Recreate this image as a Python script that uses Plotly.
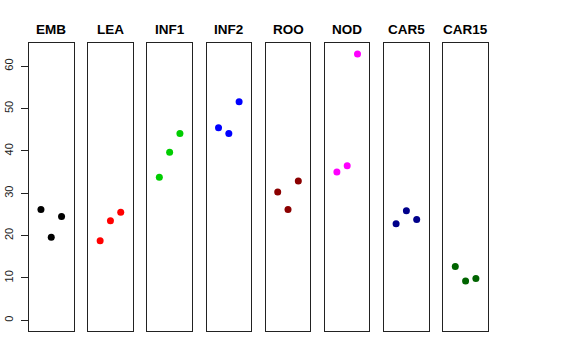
import plotly.graph_objects as go

categories = ["EMB", "LEA", "INF1", "INF2", "ROO", "NOD", "CAR5", "CAR15"]
colors = ["#000000", "#FF0000", "#00CD00", "#0000FF", "#8B0000", "#FF00FF", "#00008B", "#006400"]
emb = [26.2, 19.6, 24.5]
lea = [18.8, 23.5, 25.5]
inf1 = [33.8, 39.7, 44.1]
inf2 = [45.5, 44.1, 51.6]
roo = [30.3, 26.2, 32.9]
nod = [35.0, 36.5, 62.9]
car5 = [22.8, 25.9, 23.8]
car15 = [12.7, 9.3, 9.9]
series = [emb, lea, inf1, inf2, roo, nod, car5, car15]
positions = [1, 2, 3]
y_ticks = [0, 10, 20, 30, 40, 50, 60]

W, H = 576, 360
left0, step, pw = 29.0, 59.19, 44.5
top_px, bot_px = 43.3, 331.0
title_px = 29.0
ymax = max(max(s) for s in series)
ypad = ymax * 0.04

fig = go.Figure()
for i, (cat, col, vals) in enumerate(zip(categories, colors, series)):
    n = "" if i == 0 else str(i + 1)
    fig.add_trace(go.Scatter(
        x=positions, y=vals, mode="markers",
        marker=dict(color=col, size=7),
        xaxis="x" + n, yaxis="y" + n, showlegend=False,
    ))
    l = left0 + i * step
    dom = [l / W, (l + pw) / W]
    fig.layout["xaxis" + n] = dict(
        domain=dom, range=[-0.16, 4.16], showgrid=False, zeroline=False,
        showticklabels=False, ticks="", showline=True, mirror=True,
        linecolor="#222222", linewidth=1, anchor="y" + n, fixedrange=True,
        automargin=False,
    )
    fig.layout["yaxis" + n] = dict(
        domain=[(H - bot_px) / H, (H - top_px) / H], range=[-ypad, ymax + ypad],
        showgrid=False, zeroline=False, showline=True, mirror=True,
        linecolor="#222222", linewidth=1, anchor="x" + n,
        showticklabels=(i == 0), ticks="outside" if i == 0 else "",
        ticklen=7, tickcolor="#222222", tickvals=y_ticks, tickangle=-90,
        ticklabelstandoff=4,
        tickfont=dict(family="Liberation Sans, Arial", size=11, color="#222222"),
        fixedrange=True, automargin=False,
    )
    fig.add_annotation(
        x=(l + pw / 2) / W, y=(H - title_px) / H, xref="paper", yref="paper",
        text="<b>" + cat + "</b>", showarrow=False,
        font=dict(family="Liberation Sans, Arial", size=13.5, color="#000000"),
        xanchor="center", yanchor="middle",
    )

fig.update_layout(
    width=W, height=H, margin=dict(l=0, r=0, t=0, b=0, autoexpand=False),
    paper_bgcolor="white", plot_bgcolor="white",
)
fig.write_html("out.html", config={"displayModeBar": False},
               post_script="document.body.style.margin='0';")
